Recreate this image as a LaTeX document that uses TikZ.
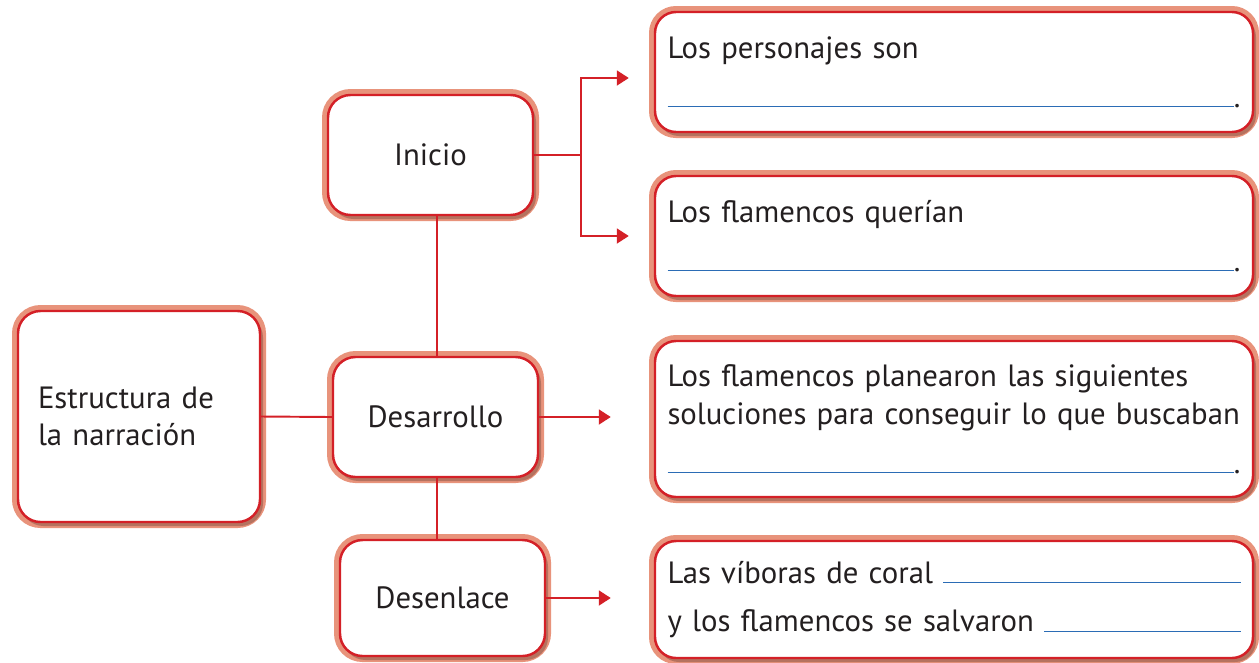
\documentclass[tikz,border=0pt]{standalone}
\usepackage{fontspec}
\setmainfont[WordSpace=0.6]{PT Sans}
\usetikzlibrary{positioning, arrows.meta, shadows}
\definecolor{nred}{HTML}{D42027}
\definecolor{nsalmon}{HTML}{E8937B}
\definecolor{nblue}{HTML}{2B6CB5}
\definecolor{ntext}{HTML}{231F20}
% a blue line to write on, filling the rest of the line
\newcommand\blankline{\leavevmode{\color{nblue}\xleaders\hrule height 0.7pt\hskip 0pt plus 1fill}}
\newcommand\boxfont{\fontsize{17.5}{21.5}\selectfont\hyphenpenalty=10000\relax}
\tikzset{
	>={Triangle[length=0.24cm, width=0.3cm]}, % filled red arrow heads
	link/.style={draw=nred, line width=1.1pt}, % the red connectors
	box/.style={rounded corners=0.45cm, draw=nred, line width=1.4pt, fill=white,
		preaction={draw=nsalmon, line width=0.24cm}, % the salmon rim behind the red edge
		drop shadow={shadow xshift=0.06cm, shadow yshift=-0.08cm, opacity=.22, fill=black},
		text=ntext, font=\boxfont},
	stage/.style={box, minimum width=4.1cm, minimum height=2.4cm}, % Inicio, Desarrollo, Desenlace
	answer/.style={box, rounded corners=0.42cm, text width=11.46cm, inner xsep=0.25cm, align=left}, % right boxes
}

\begin{document}
\begin{tikzpicture}
	\useasboundingbox (0,0) rectangle (25.18,-13.24);
	% the whole story
	\node[box, minimum width=4.84cm, minimum height=4.22cm, text width=4.04cm, inner xsep=0.4cm, align=left] (Estructura) at (2.78,-8.33) {Estructura de\\la narración};
	% its three parts
	\node[stage] (Inicio) at (8.61,-3.10) {Inicio};
	\node[stage] (Desarrollo) at (8.71,-8.34) {Desarrollo};
	\node[stage, minimum height=2.32cm] (Desenlace) at (8.85,-11.96) {Desenlace};
	%% what the pupil fills in
	\node[answer, minimum height=2.4cm] (Personajes) at (19.08,-1.44) {Los personajes son\\[0.22cm]\blankline.};
	\node[answer, minimum height=2.4cm] (Querian) at (19.08,-4.72) {Los flamencos querían\\[0.22cm]\blankline.};
	\node[answer, minimum height=3.12cm] (Soluciones) at (19.08,-8.38) {Los flamencos planearon las siguientes\\soluciones para conseguir lo que buscaban\\[0.22cm]\blankline.};
	\node[answer, minimum height=2.34cm] (Final) at (19.08,-11.99) {Las víboras de coral \blankline\\[0.22cm]y los flamencos se salvaron \blankline};

	%% the spine joining the parts
	\coordinate (spine) at (8.74,0);
	\coordinate (fork) at (11.62,0);
	\draw[link] (Estructura.east) -- (Desarrollo.west);
	\draw[link] (spine |- Inicio.south) -- (spine |- Desarrollo.north);
	\draw[link] (spine |- Desarrollo.south) -- (spine |- Desenlace.north);
	%% Inicio splits in two
	\draw[link] (Inicio.east) -- (fork |- Inicio.east);
	\draw[link, ->, shorten >=0.5cm] (fork |- Inicio.east) |- ([yshift=-0.12cm]Personajes.west);
	\draw[link, ->, shorten >=0.5cm] (fork |- Inicio.east) |- (Querian.west);
	\draw[link, ->, shorten >=0.86cm] (Desarrollo.east) -- (Desarrollo.east -| Soluciones.west);
	\draw[link, ->, shorten >=0.86cm] (Desenlace.east) -- (Desenlace.east -| Final.west);
\end{tikzpicture}
\end{document}
